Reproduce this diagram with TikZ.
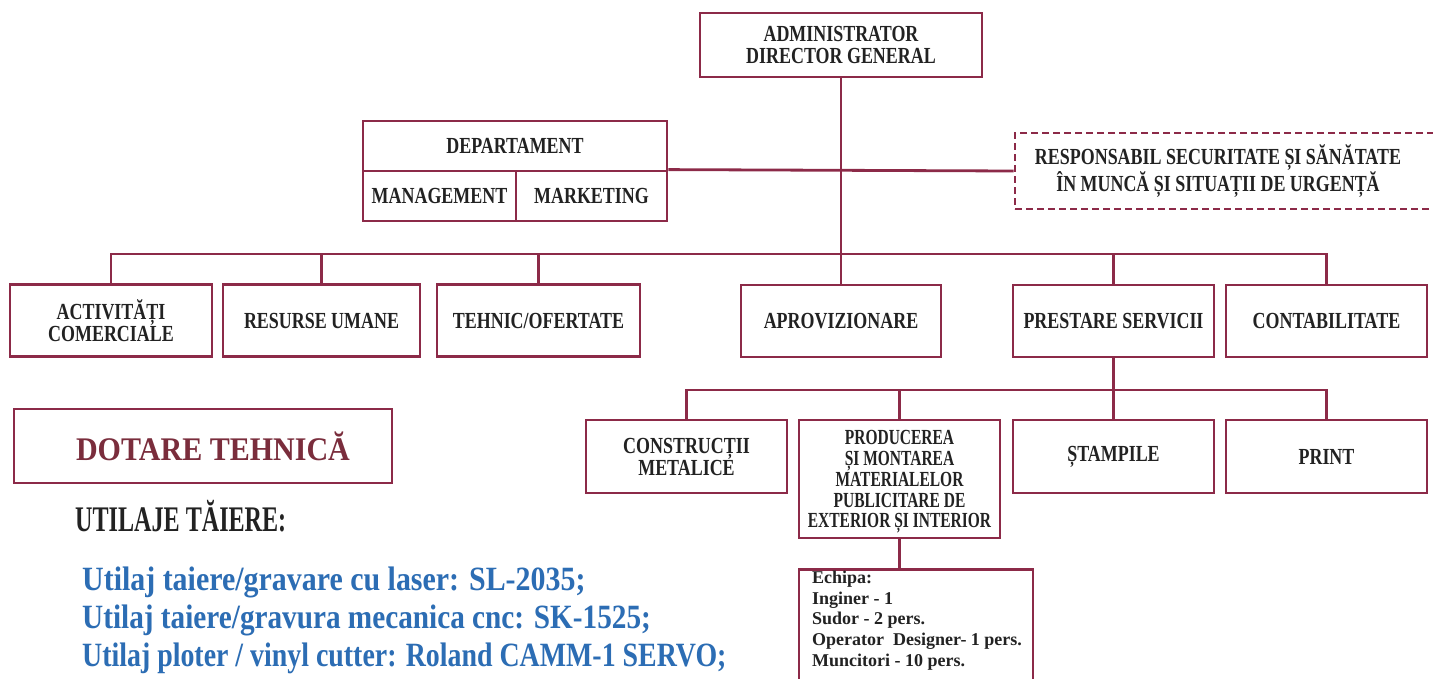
\documentclass[tikz,border=0pt]{standalone}
\usepackage{fontspec}
\setmainfont{Liberation Serif}
\newfontfamily\orgLbl[FakeStretch=0.78]{Liberation Serif}
\newfontfamily\orgNarrow[FakeStretch=0.72]{Liberation Serif}
\newfontfamily\orgHead[FakeStretch=0.91]{Liberation Serif}
\newfontfamily\orgSub[FakeStretch=0.67]{Liberation Serif}
\newfontfamily\orgBlueA[FakeStretch=0.88]{Liberation Serif}
\newfontfamily\orgBlueB[FakeStretch=0.86]{Liberation Serif}
\newfontfamily\orgBlueC[FakeStretch=0.82]{Liberation Serif}
\definecolor{boxred}{HTML}{8C2A48}
\definecolor{txt}{HTML}{222222}
\definecolor{headred}{HTML}{7A2D3C}
\definecolor{blu}{HTML}{2C6DB4}
\begin{document}
\begin{tikzpicture}[x=1pt,y=-1pt,
  orgbox/.style={draw=boxred,line width=2.8pt,fill=white,inner sep=0pt,align=center,text=txt,font=\orgLbl\bfseries\fontsize{23}{22}\selectfont},
  link/.style={draw=boxred,line width=2.8pt},
  bluetxt/.style={anchor=base west,inner sep=0pt,text=blu}]
\fill[white] (0,0) rectangle (1433,678);
\useasboundingbox (0,0) rectangle (1433,678);
\clip (0,0) rectangle (1433,678);

% top
\node[orgbox,minimum width=282pt,minimum height=64pt] (adm) at (841,45) {ADMINISTRATOR\\DIRECTOR GENERAL};
\node[orgbox,minimum width=304pt,minimum height=50pt] (dep) at (515,146) {DEPARTAMENT};
\node[orgbox,minimum width=153pt,minimum height=50pt] (mgm) at (439.5,196) {MANAGEMENT};
\node[orgbox,minimum width=151pt,minimum height=50pt] (mkt) at (591.5,196) {MARKETING};
\node[draw=boxred,line width=2.6pt,dash pattern=on 7pt off 4pt,fill=white,minimum width=430pt,minimum height=76pt,inner sep=0pt] (respf) at (1230,171) {};
\node[inner sep=0pt,align=center,text=txt,font=\orgLbl\bfseries\fontsize{23}{23}\selectfont] (resp) at (1218,171) {RESPONSABIL SECURITATE ȘI SĂNĂTATE\\ÎN MUNCĂ ȘI SITUAȚII DE URGENȚĂ};

% row 1
\node[orgbox,minimum width=202pt,minimum height=72pt] (act) at (111,320.5) {ACTIVITĂȚI\\COMERCIALE};
\node[orgbox,minimum width=197pt,minimum height=72pt] (res) at (321.5,320.5) {RESURSE UMANE};
\node[orgbox,minimum width=203pt,minimum height=72pt] (teh) at (538.5,320.5) {TEHNIC/OFERTATE};
\node[orgbox,minimum width=200pt,minimum height=72pt] (apr) at (841,321) {APROVIZIONARE};
\node[orgbox,minimum width=201pt,minimum height=72pt] (pre) at (1113.5,321) {PRESTARE SERVICII};
\node[orgbox,minimum width=201pt,minimum height=72pt] (cont) at (1326.5,321) {CONTABILITATE};

% row 2
\node[orgbox,minimum width=201pt,minimum height=73pt] (con) at (686.5,456.5) {CONSTRUCȚII\\METALICE};
\node[orgbox,minimum width=201pt,minimum height=118pt] (prod) at (899.5,479) {};
\node[inner sep=0pt,align=center,text=txt,font=\orgNarrow\bfseries\fontsize{21.5}{20.7}\selectfont] (prodt) at (899.5,482) {PRODUCEREA\\ȘI MONTAREA\\MATERIALELOR\\PUBLICITARE DE\\EXTERIOR ȘI INTERIOR};
\node[orgbox,minimum width=201pt,minimum height=73pt] (stam) at (1113.5,456.5) {ȘTAMPILE};
\node[orgbox,minimum width=201pt,minimum height=73pt] (prt) at (1326.5,456.5) {PRINT};

% team
\node[draw=boxred,line width=2.8pt,fill=white,minimum width=234pt,minimum height=130pt,inner sep=0pt,anchor=north] (ech) at (916,568) {};
\node[anchor=north west,inner sep=0pt,align=left,text=txt,font=\bfseries\fontsize{18}{20.6}\selectfont] (echt) at (812,571) {Echipa:\\Inginer - 1\\Sudor - 2 pers.\\Operator\ \ Designer- 1 pers.\\Muncitori - 10 pers.};

% connectors
\coordinate (busA) at (0,254);
\coordinate (busB) at (0,390);
\draw[link] (mkt.north east) -- (respf.west);
\draw[link] (adm.south) -- (apr.north);
\draw[link] (act.north) -- (act.north |- busA) -- (cont.north |- busA) -- (cont.north);
\foreach \n in {res,teh,pre} {\draw[link] (\n.north) -- (\n.north |- busA);}
\draw[link] (pre.south) -- (stam.north);
\draw[link] (con.north) -- (con.north |- busB) -- (prt.north |- busB) -- (prt.north);
\draw[link] (prod.north) -- (prod.north |- busB);
\draw[link] (prod.south) -- (prod.south |- ech.north);

% technical equipment
\node[draw=boxred,line width=2.4pt,minimum width=378pt,minimum height=74pt,inner sep=0pt,text=headred,font=\orgHead\bfseries\fontsize{33}{33}\selectfont] (dot) at (203,446) {\hspace*{20pt}DOTARE TEHNICĂ};
\node[anchor=base west,inner sep=0pt,text=txt,font=\orgSub\bfseries\fontsize{36}{36}\selectfont] (ut) at (75,531) {UTILAJE TĂIERE:};
\node[bluetxt,font=\orgBlueA\bfseries\fontsize{34}{34}\selectfont] (l1) at (82,590) {Utilaj taiere/gravare cu laser: SL-2035;};
\node[bluetxt,font=\orgBlueB\bfseries\fontsize{34}{34}\selectfont] (l2) at (82,628) {Utilaj taiere/gravura mecanica cnc: SK-1525;};
\node[bluetxt,font=\orgBlueC\bfseries\fontsize{34}{34}\selectfont] (l3) at (82,666) {Utilaj ploter / vinyl cutter: Roland CAMM-1 SERVO;};
\end{tikzpicture}
\end{document}
